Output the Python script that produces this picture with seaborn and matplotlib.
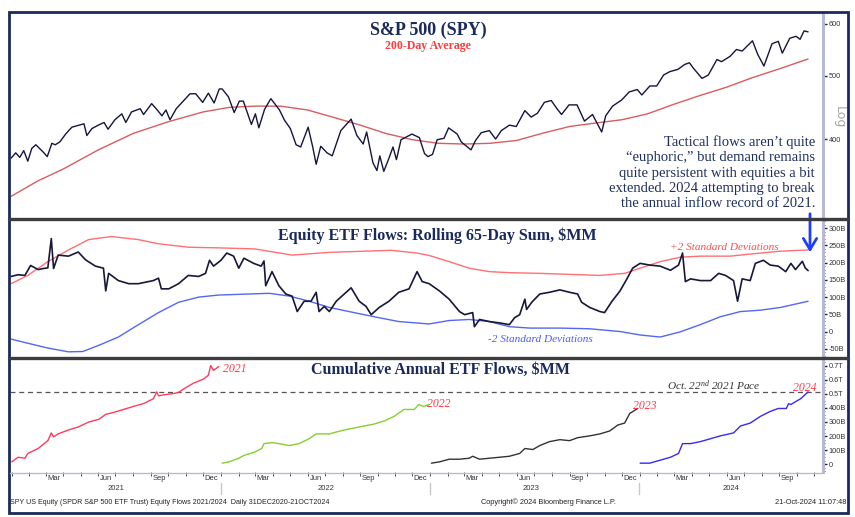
import matplotlib
matplotlib.use("Agg")
import numpy as np
import pandas as pd
import matplotlib.pyplot as plt
import matplotlib.dates as mdates
import matplotlib.ticker as mticker
from matplotlib.lines import Line2D
from matplotlib.patches import Rectangle
import seaborn as sns

# ---------------- data ----------------
spy_dates = ["2020-12-31","2021-01-08","2021-01-15","2021-01-22","2021-01-29","2021-02-05","2021-02-12","2021-02-25",
             "2021-03-04","2021-03-12","2021-03-18","2021-03-26","2021-04-05","2021-04-16","2021-04-29","2021-05-07",
             "2021-05-12","2021-05-21","2021-06-01","2021-06-11","2021-06-18","2021-06-30","2021-07-12","2021-07-19",
             "2021-07-29","2021-08-13","2021-08-19","2021-09-02","2021-09-10","2021-09-20","2021-09-27","2021-10-04",
             "2021-10-15","2021-10-29","2021-11-08","2021-11-18","2021-11-30","2021-12-10","2021-12-20","2021-12-29",
             "2022-01-03","2022-01-14","2022-01-24","2022-02-02","2022-02-09","2022-02-23","2022-03-02","2022-03-08",
             "2022-03-18","2022-03-29","2022-04-13","2022-04-22","2022-05-02","2022-05-12","2022-05-20","2022-06-02",
             "2022-06-10","2022-06-16","2022-06-24","2022-07-05","2022-07-14","2022-07-29","2022-08-16","2022-08-26",
             "2022-09-06","2022-09-12","2022-09-23","2022-09-30","2022-10-05","2022-10-12","2022-10-21","2022-10-28",
             "2022-11-03","2022-11-11","2022-11-30","2022-12-13","2022-12-22","2022-12-28","2023-01-05","2023-01-13",
             "2023-01-25","2023-02-02","2023-02-17","2023-02-24","2023-03-13","2023-03-21","2023-03-31","2023-04-14",
             "2023-04-25","2023-05-05","2023-05-19","2023-05-31","2023-06-15","2023-06-26","2023-07-07","2023-07-19",
             "2023-07-31","2023-08-10","2023-08-18","2023-08-31","2023-09-14","2023-09-27","2023-10-11","2023-10-20",
             "2023-10-27","2023-11-03","2023-11-15","2023-12-01","2023-12-14","2023-12-28","2024-01-05","2024-01-19",
             "2024-01-31","2024-02-12","2024-02-23","2024-03-08","2024-03-20","2024-03-28","2024-04-04","2024-04-19",
             "2024-04-30","2024-05-15","2024-05-23","2024-06-07","2024-06-18","2024-06-28","2024-07-16","2024-07-25",
             "2024-08-05","2024-08-19","2024-08-30","2024-09-06","2024-09-19","2024-09-30","2024-10-07","2024-10-14",
             "2024-10-21"]
spy_close = [374,381,375,384,370,387,392,382,
             376,394,392,396,407,417,420,422,
             405,415,420,424,414,428,437,424,
             440,445,436,453,445,434,443,428,
             445,459,469,469,455,470,454,477,
             477,464,439,457,457,421,437,416,
             444,461,443,427,415,392,389,417,
             389,366,390,381,377,412,429,405,
             393,410,368,358,377,357,374,389,
             372,399,407,402,380,376,379,399,
             401,416,407,396,385,398,409,412,
             400,412,420,418,442,432,438,455,
             458,445,436,451,451,426,436,421,
             410,434,449,459,472,476,467,482,
             482,501,507,511,520,523,513,495,
             501,529,525,535,548,545,565,539,
             517,559,564,541,570,574,568,585,
             583]

ma200_dates = ["2020-12-31","2021-02-15","2021-04-01","2021-06-01","2021-08-01","2021-10-01","2021-12-01","2022-01-15",
               "2022-03-01","2022-04-15","2022-06-01","2022-07-15","2022-09-01","2022-10-15","2022-12-01","2023-01-15",
               "2023-03-01","2023-04-15","2023-06-01","2023-07-15","2023-09-01","2023-10-15","2023-12-01","2024-01-15",
               "2024-03-01","2024-04-15","2024-06-01","2024-07-15","2024-09-01","2024-10-21"]
ma200 = [327,345,360,385,408,425,440,447,
         449,449,443,432,420,408,399,394,
         393,394,398,408,418,423,428,437,
         452,466,480,496,512,530]

flow_dates = ["2020-12-31","2021-01-12","2021-01-24","2021-02-03","2021-02-16","2021-02-25","2021-03-05","2021-03-11",
              "2021-03-15","2021-03-23","2021-04-10","2021-04-27","2021-05-10","2021-05-27","2021-06-10","2021-06-14",
              "2021-06-19","2021-07-06","2021-07-24","2021-08-10","2021-09-05","2021-09-14","2021-09-19","2021-10-02",
              "2021-10-19","2021-11-05","2021-11-23","2021-12-05","2021-12-12","2021-12-19","2022-01-01","2022-01-11",
              "2022-01-23","2022-02-01","2022-02-10","2022-02-27","2022-03-12","2022-03-17","2022-03-20","2022-03-31",
              "2022-04-12","2022-04-24","2022-05-05","2022-05-14","2022-05-26","2022-06-07","2022-06-16","2022-06-21",
              "2022-06-30","2022-07-09","2022-07-21","2022-08-04","2022-08-16","2022-08-30","2022-09-11","2022-09-20",
              "2022-10-04","2022-10-21","2022-11-07","2022-11-25","2022-12-09","2022-12-18","2022-12-30","2023-01-17",
              "2023-02-03","2023-02-21","2023-03-02","2023-03-16","2023-03-19","2023-03-28","2023-04-14","2023-05-02",
              "2023-05-19","2023-05-28","2023-06-06","2023-06-15","2023-06-18","2023-06-27","2023-07-11","2023-07-28",
              "2023-08-15","2023-09-01","2023-09-15","2023-09-22","2023-10-06","2023-10-24","2023-11-01","2023-11-14",
              "2023-11-28","2023-12-10","2023-12-20","2024-01-02","2024-01-19","2024-02-06","2024-02-24","2024-03-09",
              "2024-03-16","2024-03-21","2024-03-30","2024-04-16","2024-05-04","2024-05-18","2024-05-30","2024-06-13",
              "2024-06-20","2024-06-28","2024-07-12","2024-07-21","2024-08-04","2024-08-16","2024-08-30","2024-09-12",
              "2024-09-21","2024-09-29","2024-10-11","2024-10-16","2024-10-21"]
flow_65d = [160,165,163,192,180,183,185,270,
            183,222,219,231,208,190,184,118,
            169,148,139,139,148,155,124,124,
            139,163,160,169,207,190,207,228,
            219,184,213,198,190,205,133,174,
            133,109,103,58,88,88,114,58,
            73,58,88,109,127,88,73,49,
            70,88,114,124,174,145,139,118,
            94,58,49,55,14,35,29,25,
            20,40,49,94,64,85,109,114,
            121,114,109,85,70,58,55,88,
            118,153,184,198,193,190,178,193,
            228,145,153,148,148,169,163,148,
            88,153,148,198,207,193,190,174,
            198,180,204,185,177]

upper_dates = ["2020-12-31","2021-01-29","2021-03-05","2021-04-10","2021-05-15","2021-06-24","2021-08-10","2021-09-14",
               "2021-11-05","2021-12-28","2022-03-01","2022-05-05","2022-07-09","2022-10-25","2022-12-09","2022-12-30",
               "2023-02-03","2023-03-10","2023-04-14","2023-05-19","2023-07-11","2023-09-01","2023-10-24","2023-12-06",
               "2024-01-02","2024-02-06","2024-03-12","2024-04-16","2024-06-07","2024-07-12","2024-08-30","2024-10-21"]
upper_2sd = [139,163,203,237,267,276,267,255,
             245,243,240,222,230,236,228,221,
             203,184,174,171,169,166,163,169,
             184,203,216,219,219,225,233,237]

lower_dates = ["2020-12-31","2021-01-29","2021-03-05","2021-04-10","2021-05-05","2021-06-02","2021-07-06","2021-08-10",
               "2021-09-14","2021-10-19","2021-11-23","2021-12-28","2022-02-19","2022-03-26","2022-04-30","2022-06-04",
               "2022-07-09","2022-08-21","2022-10-04","2022-11-07","2022-12-30","2023-02-03","2023-03-10","2023-04-14",
               "2023-05-19","2023-06-24","2023-08-15","2023-10-06","2023-11-28","2024-01-02","2024-02-06","2024-03-12",
               "2024-04-16","2024-05-21","2024-06-25","2024-07-30","2024-09-03","2024-10-21"]
lower_2sd = [-22,-34,-48,-59,-58,-40,-16,20,
             55,85,100,106,109,111,103,88,
             70,55,40,29,22,32,35,29,
             14,10,10,8,0,-10,-16,-1,
             20,43,58,62,70,88]

cum21_dates = ["2021-01-01","2021-01-12","2021-01-24","2021-01-29","2021-02-16","2021-03-05","2021-03-11","2021-03-15",
               "2021-03-23","2021-04-10","2021-04-27","2021-05-15","2021-06-02","2021-06-14","2021-06-28","2021-07-15",
               "2021-08-01","2021-08-19","2021-09-05","2021-09-11","2021-09-14","2021-09-23","2021-10-10","2021-10-19",
               "2021-10-28","2021-11-14","2021-12-01","2021-12-10","2021-12-14","2021-12-19","2021-12-28"]
cum21 = [16,49,42,76,111,167,222,194,
         215,243,264,299,319,354,368,389,
         410,431,465,514,486,493,502,510,
         535,576,604,632,701,667,694]

cum22_dates = ["2022-01-03","2022-01-15","2022-02-01","2022-02-10","2022-02-27","2022-03-13","2022-03-17","2022-03-31",
               "2022-04-12","2022-04-30","2022-05-17","2022-06-04","2022-06-16","2022-07-09","2022-08-04","2022-08-30",
               "2022-09-25","2022-10-12","2022-10-30","2022-11-16","2022-12-04","2022-12-12","2022-12-21","2022-12-30"]
cum22 = [7,16,42,62,83,111,146,153,
         146,132,146,181,215,215,243,264,
         285,306,340,389,389,424,410,424]

cum23_dates = ["2023-01-03","2023-01-17","2023-02-03","2023-02-21","2023-03-10","2023-03-16","2023-03-28","2023-04-14",
               "2023-05-02","2023-05-19","2023-06-06","2023-06-15","2023-06-29","2023-07-11","2023-07-28","2023-08-15",
               "2023-09-01","2023-09-15","2023-10-06","2023-10-24","2023-11-10","2023-11-24","2023-12-06","2023-12-15",
               "2023-12-29"]
cum23 = [7,16,35,35,42,56,35,42,
         49,56,76,111,104,132,160,174,
         167,188,201,215,236,278,292,361,
         396]

cum24_dates = ["2024-01-02","2024-01-19","2024-02-06","2024-02-24","2024-03-09","2024-03-16","2024-03-30","2024-04-16",
               "2024-05-04","2024-05-21","2024-06-13","2024-06-25","2024-07-12","2024-07-30","2024-08-16","2024-08-30",
               "2024-09-13","2024-09-17","2024-09-21","2024-09-29","2024-10-08","2024-10-21"]
cum24 = [7,7,28,49,76,146,146,160,
         181,201,222,271,292,340,375,396,
         396,430,424,444,465,514]

oct22_2021_pace = 510

spy_ticks = [400, 500, 600]
flow_ticks = [-50, 0, 50, 100, 150, 200, 250, 300]
flow_tick_labels = ["-50B", "0", "50B", "100B", "150B", "200B", "250B", "300B"]
cum_ticks = [0, 100, 200, 300, 400, 500, 600, 700]
cum_tick_labels = ["0", "100B", "200B", "300B", "400B", "0.5T", "0.6T", "0.7T"]

note_lines = ["Tactical flows aren\u2019t quite",
              "\u201ceuphoric,\u201d but demand remains",
              "quite persistent with equities a bit",
              "extended. 2024 attempting to break",
              "the annual inflow record of 2021."]

# ---------------- figure ----------------
sns.set_theme(style="white")
plt.rcParams['font.family'] = ['DejaVu Sans']
plt.rcParams['mathtext.fontset'] = 'custom'
plt.rcParams['mathtext.rm'] = 'Liberation Serif:italic'
plt.rcParams['mathtext.it'] = 'Liberation Serif:italic'

W, H = 855, 517
fig = plt.figure(figsize=(W / 100, H / 100), dpi=100, facecolor="white")

def fx(px):
    return px / W

def fy(py):
    return 1 - py / H

def axes_px(x0, y0, x1, y1):
    return fig.add_axes([fx(x0), fy(y1), fx(x1) - fx(x0), fy(y0) - fy(y1)])

ax1 = axes_px(10, 13, 823, 218)
ax2 = axes_px(10, 220, 823, 357)
ax3 = axes_px(10, 358, 823, 472)

NAVY = "#1b2a5c"
SERIF = ["Liberation Serif", "DejaVu Serif"]
NARROW = ["Liberation Sans", "DejaVu Sans"]
xlim = (pd.Timestamp("2020-12-29"), pd.Timestamp("2024-11-16"))


def line(ax, dates, vals, color, lw, **kw):
    df = pd.DataFrame({"date": pd.to_datetime(dates), "v": vals})
    sns.lineplot(data=df, x="date", y="v", ax=ax, color=color, lw=lw,
                 estimator=None, sort=False, legend=False, **kw)


# top panel
line(ax1, ma200_dates, ma200, "#d95c60", 1.0)
line(ax1, spy_dates, spy_close, "#15153d", 1.0)
ax1.set_yscale("log")
ax1.set_ylim(303, 623)
ax1.yaxis.set_major_locator(mticker.FixedLocator(spy_ticks))
ax1.yaxis.set_major_formatter(mticker.FixedFormatter([str(t) for t in spy_ticks]))
ax1.yaxis.set_minor_locator(mticker.NullLocator())

# middle panel
line(ax2, upper_dates, upper_2sd, "#ff6f73", 1.0)
line(ax2, lower_dates, lower_2sd, "#5566f2", 1.0)
line(ax2, flow_dates, flow_65d, "#17173a", 1.2)
ax2.set_ylim(-74, 324)
ax2.yaxis.set_major_locator(mticker.FixedLocator(flow_ticks))
ax2.yaxis.set_major_formatter(mticker.FixedFormatter(flow_tick_labels))
ax2.yaxis.set_minor_locator(mticker.MultipleLocator(10))

# bottom panel
ax3.axhline(oct22_2021_pace, color="#555555", lw=0.9, ls=(0, (4, 3)))
line(ax3, cum21_dates, cum21, "#ff3a5c", 1.0)
line(ax3, cum22_dates, cum22, "#86cf2e", 1.0)
line(ax3, cum23_dates, cum23, "#333333", 1.0)
line(ax3, cum24_dates, cum24, "#3b28f0", 1.0)
ax3.set_ylim(-56, 755)
ax3.yaxis.set_major_locator(mticker.FixedLocator(cum_ticks))
ax3.yaxis.set_major_formatter(mticker.FixedFormatter(cum_tick_labels))
ax3.yaxis.set_minor_locator(mticker.MultipleLocator(25))

for ax in (ax1, ax2, ax3):
    ax.set_xlim(*xlim)
    ax.set_xlabel("")
    ax.set_ylabel("")
    ax.set_facecolor("white")
    ax.grid(False)
    for s in ("top", "bottom", "left"):
        ax.spines[s].set_visible(False)
    ax.spines["right"].set_color("#b9b9d3")
    ax.spines["right"].set_linewidth(2.2)
    ax.yaxis.tick_right()
    ax.tick_params(axis="y", which="major", direction="out", length=3, width=1.0,
                   color="#222244", labelsize=5.3, labelcolor="#333333", pad=1.2, right=True)
    ax.tick_params(axis="y", which="minor", direction="out", length=1.5, width=0.6,
                   color="#222244", right=True)
    for lab in ax.get_yticklabels():
        lab.set_family(NARROW)

for ax in (ax1, ax2):
    ax.tick_params(axis="x", which="both", bottom=False, labelbottom=False)

# x axis (bottom)
ax3.xaxis.set_major_locator(mdates.MonthLocator(bymonth=[3, 6, 9, 12], bymonthday=15))
ax3.xaxis.set_major_formatter(mdates.DateFormatter("%b"))
ax3.xaxis.set_minor_locator(mdates.MonthLocator())
ax3.tick_params(axis="x", which="major", length=0, labelsize=5.5, labelcolor="#333333", pad=2.5)
ax3.tick_params(axis="x", which="minor", length=3, width=0.6, color="#333333", bottom=True)
ax3.tick_params(axis="x", which="major", bottom=True)
for lab in ax3.get_xticklabels():
    lab.set_family(NARROW)

# year labels and separators in the date strip
for yx, ytxt in [(116, "2021"), (326, "2022"), (531, "2023"), (731, "2024")]:
    fig.text(fx(yx), fy(489), ytxt, ha="center", va="center", fontsize=5.5,
             color="#333333", family=NARROW)
for sx in (221, 430, 639):
    fig.add_artist(Line2D([fx(sx), fx(sx)], [fy(483), fy(494)], color="#c8c8c8", lw=1.0))

# titles
fig.text(fx(428), fy(30), "S&P 500 (SPY)", ha="center", va="center", fontsize=13,
         weight="bold", color=NAVY, family=SERIF)
fig.text(fx(428), fy(46), "200-Day Average", ha="center", va="center", fontsize=8.6,
         weight="bold", color="#ff3b3b", family=SERIF)
fig.text(fx(437), fy(236), "Equity ETF Flows: Rolling 65-Day Sum, $MM", ha="center", va="center",
         fontsize=11.5, weight="bold", color=NAVY, family=SERIF)
fig.text(fx(440), fy(370), "Cumulative Annual ETF Flows, $MM", ha="center", va="center",
         fontsize=11.5, weight="bold", color=NAVY, family=SERIF)

# note
for i, t in enumerate(note_lines):
    fig.text(fx(815), fy(142 + i * 15.5), t, ha="right", va="center", fontsize=10.5,
             color="#1e2f5e", family=SERIF)

# band labels
fig.text(fx(724), fy(248), "+2 Standard Deviations", ha="center", va="center", fontsize=8.1,
         style="italic", color="#ff4d4d", family=SERIF)
fig.text(fx(540), fy(340), "-2 Standard Deviations", ha="center", va="center", fontsize=8.1,
         style="italic", color="#4a5cf5", family=SERIF)

# year labels in cumulative panel
for (lx, ly, lt) in [(223, 369, "2021"), (427, 404, "2022"), (633, 406, "2023"), (793, 388, "2024")]:
    fig.text(fx(lx), fy(ly), lt, ha="left", va="center", fontsize=8.5, style="italic",
             color="#ff3a4a", family=SERIF)
fig.text(fx(667), fy(386), r"Oct. 22$^{\mathrm{nd}}$ 2021 Pace", ha="left", va="center",
         fontsize=8.1, style="italic", color="#333333", family=SERIF)

# Log label
fig.text(fx(839), fy(117), "Log", ha="center", va="center", fontsize=9, rotation=270,
         color="#a8a8a8", family=["DejaVu Sans"])

# arrow
fig.add_artist(matplotlib.patches.FancyArrowPatch(
    (fx(810), fy(211)), (fx(810), fy(255)), transform=fig.transFigure,
    arrowstyle="->,head_length=5,head_width=3", color="#1f3cff", lw=2.0, mutation_scale=1.6))

# footer
fig.text(fx(10), fy(502), "SPY US Equity (SPDR S&P 500 ETF Trust) Equity Flows 2021/2024  Daily 31DEC2020-21OCT2024",
         ha="left", va="center", fontsize=5.1, color="#222222", family=NARROW)
fig.text(fx(548), fy(502), "Copyright\u00a9 2024 Bloomberg Finance L.P.", ha="center", va="center",
         fontsize=5.3, color="#222222", family=NARROW)
fig.text(fx(846), fy(502), "21-Oct-2024 11:07:48", ha="right", va="center", fontsize=5.3,
         color="#222222", family=NARROW)

# frame and separators
fig.add_artist(Rectangle((fx(9), fy(513)), fx(848) - fx(9), fy(12) - fy(513), fill=False,
                         edgecolor=NAVY, lw=2.0, transform=fig.transFigure))
for sy in (219, 357.5):
    fig.add_artist(Line2D([fx(9), fx(848)], [fy(sy), fy(sy)], color="#3d3d3d", lw=2.4))
fig.add_artist(Line2D([fx(10), fx(823)], [fy(472.5), fy(472.5)], color="#b9b9d3", lw=1.0))

fig.savefig("out.png", dpi=100, facecolor="white")
